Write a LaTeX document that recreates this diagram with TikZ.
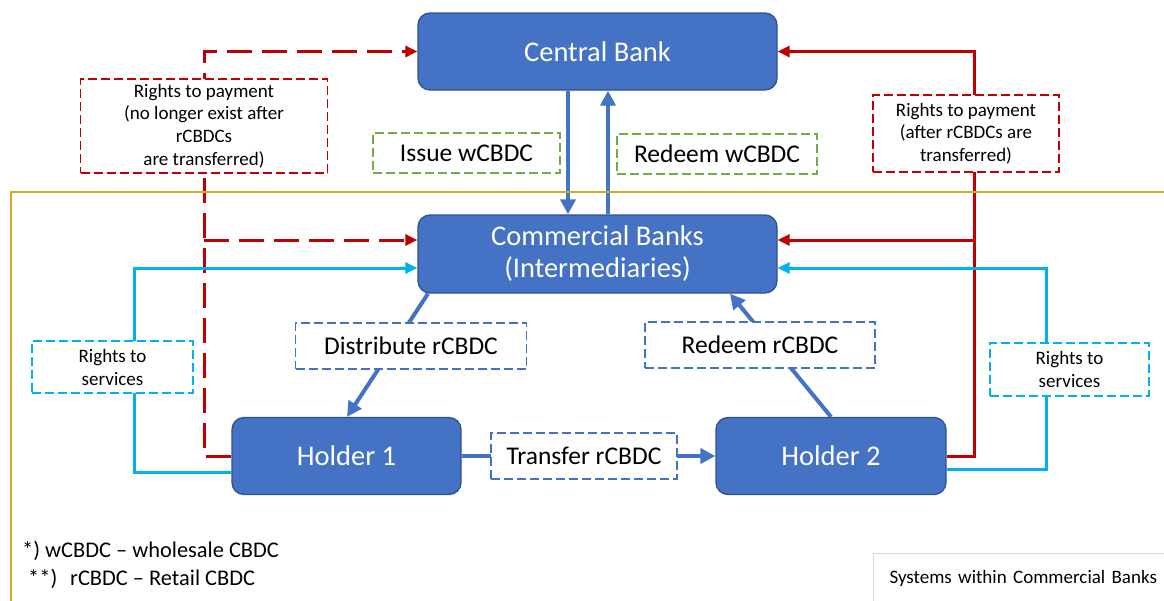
\documentclass[tikz,border=0pt]{standalone}
\usepackage{fontspec}
\setmainfont{Carlito}
\usetikzlibrary{arrows.meta}
\pgfdeclarelayer{back}
\pgfsetlayers{back,main}

\definecolor{bankfill}{HTML}{4472C4}
\definecolor{bankedge}{HTML}{2F528F}
\definecolor{payred}{HTML}{C00000}
\definecolor{svccyan}{HTML}{00B0F0}
\definecolor{wgreen}{HTML}{70AD47}
\definecolor{framegold}{HTML}{D4A82A}
\definecolor{sysgray}{HTML}{D9D9D9}

\tikzset{
  bank/.style={draw=bankedge, line width=1.3pt, fill=bankfill, rounded corners=12pt,
    text=white, inner sep=0pt, minimum width=359pt, align=center,
    font=\fontsize{28.5}{32}\selectfont},
  lbl/.style={draw, dashed, dash pattern=on 9pt off 4pt, line width=1.4pt, fill=white,
    inner sep=0pt, align=center},
  lblgreen/.style={lbl, draw=wgreen, font=\fontsize{25.5}{30}\selectfont},
  lblblue/.style={lbl, draw=bankfill, font=\fontsize{25.5}{30}\selectfont},
  lblred/.style={lbl, draw=payred, font=\fontsize{19}{22.7}\selectfont},
  lblcyan/.style={lbl, draw=svccyan, font=\fontsize{19}{23}\selectfont},
  flow/.style={draw=bankfill, line width=4pt, -{Triangle[length=15pt,width=15pt]}},
  payline/.style={draw=payred, line width=3pt},
  paydash/.style={payline, dash pattern=on 25pt off 10pt},
  svcline/.style={draw=svccyan, line width=3pt},
  tip/.style={-{Triangle[length=12pt,width=11pt]}},
  note/.style={anchor=west, inner sep=0pt, font=\fontsize{22.4}{27}\selectfont}
}

\begin{document}
\begin{tikzpicture}[x=1pt,y=-1pt]
\useasboundingbox (0,0) rectangle (1164,600);

% boundary of the commercial-bank systems
\draw[framegold, line width=2pt] (1170,192) -- (11,192) -- (11,605);

% institutions and holders
\node[bank, minimum height=77pt] (cb) at (597.5,51.5) {Central Bank};
\node[bank, minimum height=78pt] (cbk) at (597.5,254) {Commercial Banks\\(Intermediaries)};
\node[bank, minimum width=229pt, minimum height=77pt] (h1) at (346.5,456) {Holder 1};
\node[bank, minimum width=230pt, minimum height=77pt] (h2) at (831,456) {Holder 2};

% flow labels
\node[lblgreen, minimum width=187pt, minimum height=40pt] (iw) at (466.5,153) {Issue wCBDC};
\node[lblgreen, minimum width=200pt, minimum height=40pt] (rw) at (717,154) {Redeem wCBDC};
\node[lblblue, minimum width=231pt, minimum height=46pt] (dr) at (411,346) {Distribute rCBDC};
\node[lblblue, minimum width=230pt, minimum height=46pt] (rr) at (760,345) {Redeem rCBDC};
\node[lblblue, minimum width=186pt, minimum height=46pt] (tr) at (584,456) {Transfer rCBDC};

% rights labels
\node[lblred, minimum width=247pt, minimum height=94pt] (lp) at (204,126)
  {Rights to payment\\(no longer exist after\\rCBDCs\\are transferred)};
\node[lblred, minimum width=186pt, minimum height=77pt] (rp) at (966,133.5)
  {Rights to payment\\(after rCBDCs are\\transferred)};
\node[lblcyan, minimum width=161pt, minimum height=52pt] (ls) at (112.5,367) {Rights to\\services};
\node[lblcyan, minimum width=159pt, minimum height=53pt] (rs) at (1069.5,369.5) {Rights to\\services};

% junction points of the rights lines
\coordinate (rj) at (974,240);
\coordinate (lc) at (134,268);
\coordinate (rc) at (1046,268);

\begin{pgfonlayer}{back}
  % wholesale and retail flows
  \draw[flow] ([xshift=-29.5pt]cb.south) -- ([xshift=-29.5pt]cbk.north);
  \draw[flow] ([xshift=10.5pt]cbk.north) -- ([xshift=10.5pt]cb.south);
  \draw[flow] ([xshift=-169.5pt]cbk.south) -- ([xshift=0.5pt]h1.north);
  \draw[flow] (h2.north) -- ([xshift=132.5pt]cbk.south);
  \draw[flow] (h1.east) -- (h2.west);

  % rights to payment held by holder 1 (dashed)
  \draw[paydash, tip] (h1.west) -| (lp.center) |- (cb.west);
  \draw[paydash, tip] (lp.center |- rj) -- ([yshift=14pt]cbk.west);

  % rights to payment held by holder 2
  \draw[payline, tip] (h2.east) -| (rj) |- (cb.east);
  \draw[payline, tip] (rj) -- ([yshift=14pt]cbk.east);

  % rights to services
  \draw[svcline, tip] ([yshift=-16pt]h1.west) -| (lc) -- ([yshift=-14pt]cbk.west);
  \draw[svcline, tip] ([yshift=-13pt]h2.east) -| (rc) -- ([yshift=-14pt]cbk.east);
\end{pgfonlayer}

% footnotes
\node[note] (fn1) at (22,551) {*) wCBDC – wholesale CBDC};
\node[note] (fn2) at (28,579) {**)\hspace{0.35em} rCBDC – Retail CBDC};

% legend tab
\node[draw=sysgray, line width=1pt, anchor=north west, inner xsep=16pt, inner ysep=0pt,
  minimum height=49pt, minimum width=310pt, align=left, text width=278pt,
  font=\fontsize{19}{23}\selectfont] (sys) at (873,553) {Systems within Commercial Banks};
\end{tikzpicture}
\end{document}
